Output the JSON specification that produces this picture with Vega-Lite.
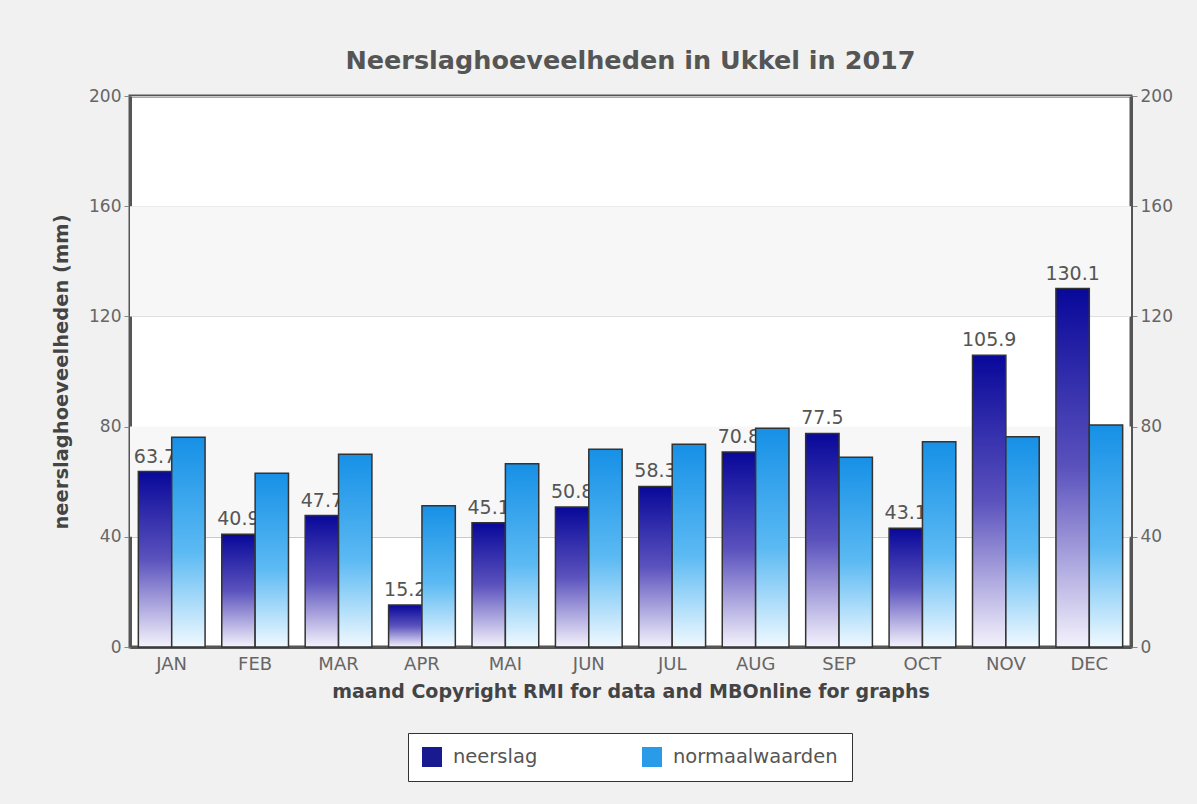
{
  "$schema": "https://vega.github.io/schema/vega-lite/v6.json",
  "width": 1001,
  "height": 551,
  "autosize": {"type": "none"},
  "padding": {"left": 130, "top": 96, "right": 66, "bottom": 157},
  "background": "#f1f1f1",
  "title": {
    "text": "Neerslaghoeveelheden in Ukkel in 2017",
    "font": "DejaVu Sans",
    "fontSize": 25.5,
    "fontWeight": "bold",
    "color": "#555555",
    "anchor": "middle",
    "offset": 13
  },
  "config": {
    "font": "DejaVu Sans",
    "view": {"fill": "white", "stroke": "#555555", "strokeWidth": 3}
  },
  "datasets": {
    "banden": [{"van": 40, "tot": 80}, {"van": 120, "tot": 160}]
  },
  "data": {
    "values": [
      {"maand": "JAN", "serie": "neerslag", "waarde": 63.7},
      {"maand": "FEB", "serie": "neerslag", "waarde": 40.9},
      {"maand": "MAR", "serie": "neerslag", "waarde": 47.7},
      {"maand": "APR", "serie": "neerslag", "waarde": 15.2},
      {"maand": "MAI", "serie": "neerslag", "waarde": 45.1},
      {"maand": "JUN", "serie": "neerslag", "waarde": 50.8},
      {"maand": "JUL", "serie": "neerslag", "waarde": 58.3},
      {"maand": "AUG", "serie": "neerslag", "waarde": 70.8},
      {"maand": "SEP", "serie": "neerslag", "waarde": 77.5},
      {"maand": "OCT", "serie": "neerslag", "waarde": 43.1},
      {"maand": "NOV", "serie": "neerslag", "waarde": 105.9},
      {"maand": "DEC", "serie": "neerslag", "waarde": 130.1},
      {"maand": "JAN", "serie": "normaalwaarden", "waarde": 76.1},
      {"maand": "FEB", "serie": "normaalwaarden", "waarde": 63.1},
      {"maand": "MAR", "serie": "normaalwaarden", "waarde": 70.0},
      {"maand": "APR", "serie": "normaalwaarden", "waarde": 51.3},
      {"maand": "MAI", "serie": "normaalwaarden", "waarde": 66.5},
      {"maand": "JUN", "serie": "normaalwaarden", "waarde": 71.8},
      {"maand": "JUL", "serie": "normaalwaarden", "waarde": 73.6},
      {"maand": "AUG", "serie": "normaalwaarden", "waarde": 79.4},
      {"maand": "SEP", "serie": "normaalwaarden", "waarde": 68.9},
      {"maand": "OCT", "serie": "normaalwaarden", "waarde": 74.5},
      {"maand": "NOV", "serie": "normaalwaarden", "waarde": 76.3},
      {"maand": "DEC", "serie": "normaalwaarden", "waarde": 80.6}
    ]
  },
  "layer": [
    {
      "data": {"name": "banden"},
      "mark": {"type": "rect", "fill": "#f7f7f7"},
      "encoding": {
        "y": {"field": "van", "type": "quantitative", "scale": {"domain": [0, 200]},
          "axis": {
            "orient": "left", "values": [0, 40, 80, 120, 160, 200],
            "title": "neerslaghoeveelheden (mm)",
            "titleFont": "DejaVu Sans", "titleFontSize": 19.5, "titleFontWeight": "bold", "titleColor": "#444444",
            "titlePadding": 17,
            "labelFontSize": 17, "labelColor": "#666666", "labelPadding": 3,
            "tickSize": 6, "tickColor": "#888888",
            "domain": true, "domainColor": "#555555", "domainWidth": 3,
            "grid": true, "gridColor": "#c8c8c8", "gridWidth": 1
          }},
        "y2": {"field": "tot"}
      }
    },
    {
      "transform": [{"filter": "datum.serie === 'neerslag'"}],
      "mark": {
        "type": "bar", "stroke": "#333333", "strokeWidth": 1.5,
        "fill": {"gradient": "linear", "x1": 0, "y1": 0, "x2": 0, "y2": 1,
          "stops": [
            {"offset": 0, "color": "#08089a"},
            {"offset": 0.5, "color": "#5b52bd"},
            {"offset": 1, "color": "#f4f2fc"}
          ]}
      },
      "encoding": {
        "x": {"field": "maand", "type": "nominal", "sort": null,
          "scale": {"paddingInner": 0.2, "paddingOuter": 0.1},
          "axis": {
            "title": "maand Copyright RMI for data and MBOnline for graphs",
            "titleFontSize": 19, "titleFontWeight": "bold", "titleColor": "#444444", "titlePadding": 9,
            "labelFontSize": 18, "labelColor": "#666666", "labelAngle": 0, "labelPadding": 8,
            "ticks": false, "domain": true, "domainColor": "#555555", "domainWidth": 3
          }},
        "xOffset": {"field": "serie", "type": "nominal",
          "scale": {"domain": ["neerslag", "normaalwaarden"], "paddingInner": 0, "paddingOuter": 0}},
        "y": {"field": "waarde", "type": "quantitative", "axis": null}
      }
    },
    {
      "transform": [{"filter": "datum.serie === 'neerslag'"}],
      "mark": {"type": "text", "baseline": "bottom", "dy": -5, "fontSize": 19, "color": "#555555"},
      "encoding": {
        "x": {"field": "maand", "type": "nominal", "sort": null},
        "xOffset": {"field": "serie", "type": "nominal"},
        "y": {"field": "waarde", "type": "quantitative", "axis": null},
        "text": {"field": "waarde", "type": "quantitative", "format": ".1f"}
      }
    },
    {
      "transform": [{"filter": "datum.serie === 'normaalwaarden'"}],
      "mark": {
        "type": "bar", "stroke": "#333333", "strokeWidth": 1.5,
        "fill": {"gradient": "linear", "x1": 0, "y1": 0, "x2": 0, "y2": 1,
          "stops": [
            {"offset": 0, "color": "#1690e6"},
            {"offset": 0.55, "color": "#5cbaf3"},
            {"offset": 1, "color": "#f0f9ff"}
          ]}
      },
      "encoding": {
        "x": {"field": "maand", "type": "nominal", "sort": null},
        "xOffset": {"field": "serie", "type": "nominal"},
        "y": {"field": "waarde", "type": "quantitative",
          "axis": {
            "orient": "right", "values": [0, 40, 80, 120, 160, 200], "title": null,
            "labelFontSize": 17, "labelColor": "#666666", "labelPadding": 3,
            "tickSize": 6, "tickColor": "#888888",
            "domain": true, "domainColor": "#555555", "domainWidth": 3, "grid": false
          }}
      }
    },
    {
      "mark": {"type": "square", "opacity": 0},
      "encoding": {
        "x": {"field": "maand", "type": "nominal", "sort": null},
        "y": {"field": "waarde", "type": "quantitative", "axis": null},
        "color": {"field": "serie", "type": "nominal",
          "scale": {"domain": ["neerslag", "normaalwaarden"], "range": ["#1a1a90", "#2a9be8"]},
          "legend": {
            "title": null, "orient": "none", "legendX": 278, "legendY": 637,
            "direction": "horizontal", "columns": 2,
            "columnPadding": 104, "padding": 14, "labelOffset": 11, "labelLimit": 400,
            "fillColor": "white", "strokeColor": "#333333",
            "labelFontSize": 19.5, "labelColor": "#555555",
            "symbolType": "square", "symbolSize": 400, "symbolOpacity": 1, "symbolStrokeWidth": 0
          }}
      }
    }
  ],
  "resolve": {"axis": {"y": "independent"}}
}
